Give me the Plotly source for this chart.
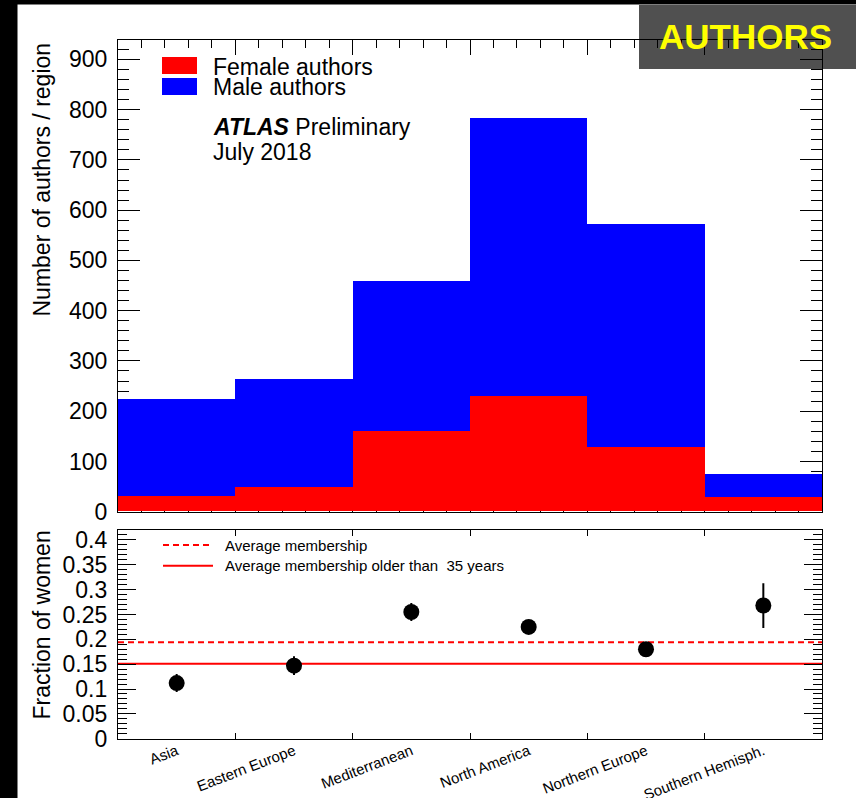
import plotly.graph_objects as go

# Regions and per-region author counts
regions = ["Asia", "Eastern Europe", "Mediterranean", "North America",
           "Northern Europe", "Southern Hemisph."]
female_authors = [31, 48, 159, 229, 129, 29]
male_authors = [193, 216, 299, 553, 443, 45]

# Fraction of women per region with uncertainties
fraction_women = [0.112, 0.147, 0.255, 0.225, 0.180, 0.268]
fraction_err = [0.018, 0.019, 0.018, 0.013, 0.014, 0.045]

# Reference averages
avg_membership = 0.194
avg_membership_35 = 0.151

W, H = 856, 798
FONT = "Liberation Sans, Arial, Helvetica, sans-serif"

# bin centres on a numeric axis, one unit per region
centres = [i + 0.5 for i in range(len(regions))]
edges = list(range(len(regions) + 1))


def px(x):
    return x / W


def py(y):
    return 1 - y / H


fig = go.Figure()

fig.add_trace(go.Bar(x=centres, y=female_authors, width=1, name="Female authors",
                     marker=dict(color="#ff0000", line=dict(width=0)),
                     xaxis="x", yaxis="y", showlegend=False))
fig.add_trace(go.Bar(x=centres, y=male_authors, width=1, name="Male authors",
                     marker=dict(color="#0000ff", line=dict(width=0)),
                     xaxis="x", yaxis="y", showlegend=False))

fig.add_trace(go.Scatter(x=[0, len(regions)], y=[avg_membership] * 2, mode="lines",
                         line=dict(color="#ff0000", width=2, dash="6px,4px"),
                         xaxis="x2", yaxis="y2", showlegend=False))
fig.add_trace(go.Scatter(x=[0, len(regions)], y=[avg_membership_35] * 2, mode="lines",
                         line=dict(color="#ff0000", width=2),
                         xaxis="x2", yaxis="y2", showlegend=False))
fig.add_trace(go.Scatter(x=centres, y=fraction_women, mode="markers",
                         marker=dict(color="black", size=16),
                         error_y=dict(type="data", array=fraction_err, color="black",
                                      thickness=2, width=0),
                         xaxis="x2", yaxis="y2", showlegend=False))

xdom = [px(118), px(822)]
axis_common = dict(showline=True, linecolor="black", linewidth=1.2, mirror="allticks",
                   ticks="inside", tickcolor="black", tickwidth=1, showgrid=False,
                   zeroline=False, automargin=False,
                   tickfont=dict(family=FONT, size=23, color="black"))

fig.update_layout(
    width=W, height=H,
    margin=dict(l=0, r=0, t=0, b=0, autoexpand=False),
    paper_bgcolor="white", plot_bgcolor="white",
    barmode="stack", bargap=0,
    font=dict(family=FONT, color="black"),
    xaxis=dict(domain=xdom, range=[0, len(regions)], anchor="y",
               tick0=0, dtick=1, ticklen=15, showticklabels=False,
               minor=dict(dtick=0.2, ticklen=8, ticks="inside", tickcolor="black"),
               layer="below traces", **axis_common),
    yaxis=dict(domain=[py(511.7), py(40.3)], range=[0, 938], anchor="x",
               tick0=0, dtick=100, ticklen=22, ticklabelstandoff=5,
               minor=dict(dtick=20, ticklen=11, ticks="inside", tickcolor="black"),
               layer="below traces", **axis_common),
    xaxis2=dict(domain=xdom, range=[0, len(regions)], anchor="y2",
                tickmode="array", tickvals=centres, ticktext=regions, ticklen=0,
                tickangle=-21, ticklabelstandoff=-3,
                minor=dict(tickvals=edges, ticklen=6, ticks="inside", tickcolor="black"),
                **{**axis_common, "tickfont": dict(family=FONT, size=15, color="black")}),
    yaxis2=dict(domain=[py(738.7), py(530)], range=[0, 0.42], anchor="x2",
                tickmode="array", tickvals=[0, 0.05, 0.1, 0.15, 0.2, 0.25, 0.3, 0.35, 0.4],
                ticktext=["0", "0.05", "0.1", "0.15", "0.2", "0.25", "0.3", "0.35", "0.4"],
                ticklen=18, ticklabelstandoff=5,
                minor=dict(dtick=0.01, tick0=0, ticklen=9, ticks="inside", tickcolor="black"),
                **axis_common),
)

shapes = [
    # legend swatches of the histogram
    dict(type="rect", xref="paper", yref="paper", x0=px(162), x1=px(197),
         y0=py(74), y1=py(57), fillcolor="#ff0000", line=dict(width=0)),
    dict(type="rect", xref="paper", yref="paper", x0=px(162), x1=px(197),
         y0=py(95), y1=py(78), fillcolor="#0000ff", line=dict(width=0)),
    # legend lines of the fraction panel
    dict(type="line", xref="paper", yref="paper", x0=px(163), x1=px(213),
         y0=py(545), y1=py(545), line=dict(color="#ff0000", width=2, dash="6px,4px")),
    dict(type="line", xref="paper", yref="paper", x0=px(163), x1=px(213),
         y0=py(565.7), y1=py(565.7), line=dict(color="#ff0000", width=2)),
    # label badge
    dict(type="rect", xref="paper", yref="paper", x0=px(639), x1=1,
         y0=py(69), y1=py(5), fillcolor="#505050", line=dict(width=0), layer="below"),
    # dark page edges
    dict(type="rect", xref="paper", yref="paper", x0=0, x1=px(17.5), y0=0, y1=1,
         fillcolor="black", line=dict(width=0), layer="above"),
    dict(type="rect", xref="paper", yref="paper", x0=0, x1=1, y0=py(4.5), y1=1,
         fillcolor="black", line=dict(width=0), layer="above"),
]

annotations = [
    dict(text="Female authors", x=px(211), y=py(66.7), size=23),
    dict(text="Male authors", x=px(211), y=py(87.3), size=23),
    dict(text="<b><i>ATLAS</i></b> Preliminary", x=px(211), y=py(127), size=23),
    dict(text="July 2018", x=px(211), y=py(152), size=23),
    dict(text="Average membership", x=px(223), y=py(545), size=15),
    dict(text="Average membership older than\u00a0 35 years", x=px(223), y=py(565.7), size=15),
]
ann_list = [dict(text=a["text"], x=a["x"], y=a["y"], xref="paper", yref="paper",
                 xanchor="left", yanchor="middle", showarrow=False,
                 font=dict(family=FONT, size=a["size"], color="black"))
            for a in annotations]

ann_list += [
    dict(text="Number of authors / region", x=px(41.5), y=py(180), xref="paper",
         yref="paper", textangle=-90, showarrow=False, xanchor="center",
         yanchor="middle", font=dict(family=FONT, size=23, color="black")),
    dict(text="Fraction of women", x=px(41.5), y=py(625), xref="paper",
         yref="paper", textangle=-90, showarrow=False, xanchor="center",
         yanchor="middle", font=dict(family=FONT, size=23, color="black")),
    dict(text="<b>AUTHORS</b>", x=px(745.5), y=py(37), xref="paper", yref="paper",
         showarrow=False, xanchor="center", yanchor="middle",
         font=dict(family=FONT, size=35, color="#ffff00")),
]

fig.update_layout(shapes=shapes, annotations=ann_list)

fig.write_html("out.html")
